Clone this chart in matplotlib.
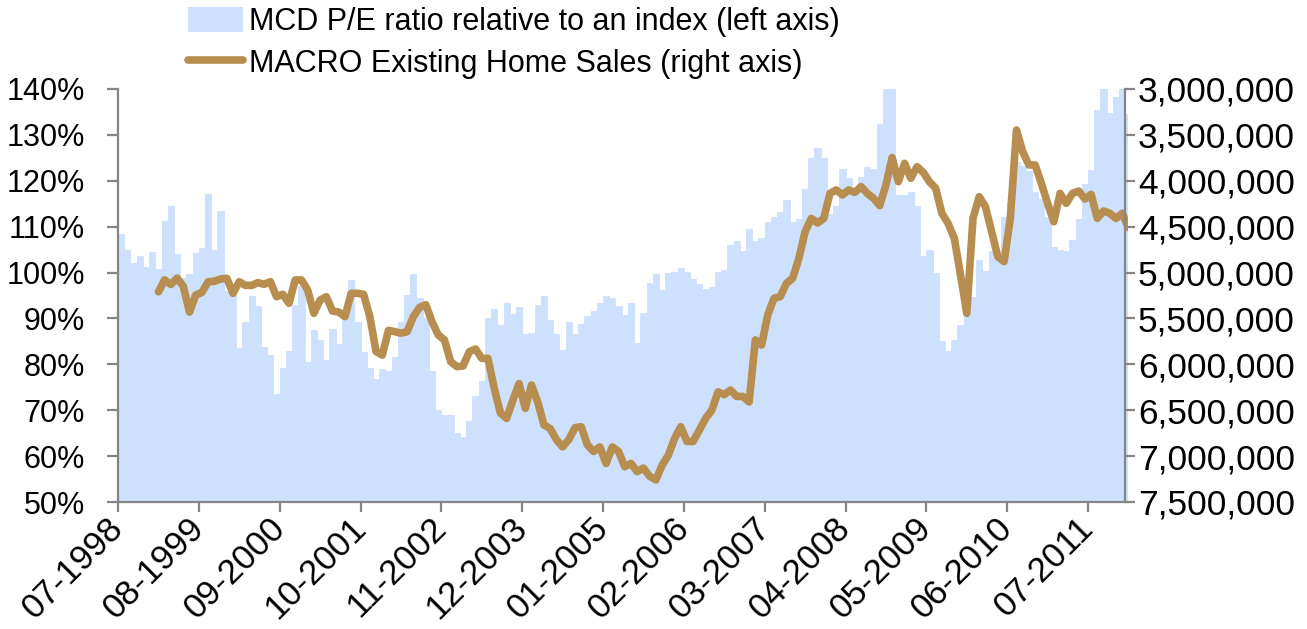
import numpy as np
import matplotlib
matplotlib.use("Agg")
import matplotlib.pyplot as plt
from matplotlib.lines import Line2D
from matplotlib.patches import Patch

plt.rcParams['font.family'] = ['Liberation Sans', 'DejaVu Sans']

# monthly data, first month is 07-1998
tick_labels = ['07-1998', '08-1999', '09-2000', '10-2001', '11-2002', '12-2003', '01-2005',
               '02-2006', '03-2007', '04-2008', '05-2009', '06-2010', '07-2011']
tick_every = 13

# MCD P/E relative to index, in %
pe_ratio = [108.4, 105.0, 102.0, 103.7, 101.2, 104.4, 100.8, 111.2, 114.6, 104.0,
            98.8, 99.6, 104.3, 105.3, 117.1, 105.0, 113.5, 96.0, 95.0, 83.5,
            89.2, 94.9, 92.8, 83.8, 82.1, 73.6, 79.2, 82.8, 93.0, 97.0,
            80.5, 87.4, 85.2, 81.0, 87.6, 84.5, 90.0, 98.4, 89.3, 82.7,
            79.1, 76.9, 78.9, 78.6, 81.6, 89.3, 95.2, 99.7, 94.4, 90.0,
            78.5, 70.0, 68.9, 69.0, 65.1, 64.2, 67.6, 73.2, 76.3, 90.1,
            92.1, 88.5, 93.3, 90.9, 92.6, 86.7, 86.9, 93.0, 94.9, 89.7,
            86.6, 83.2, 89.2, 86.7, 88.7, 90.6, 91.7, 93.4, 94.8, 94.4,
            92.7, 90.7, 93.4, 84.6, 91.2, 97.7, 99.7, 96.2, 99.9, 100.1,
            101.0, 100.2, 98.6, 97.4, 96.5, 96.8, 100.1, 100.6, 106.0, 106.8,
            104.7, 109.5, 106.8, 107.6, 111.0, 112.1, 113.3, 115.9, 111.0, 111.7,
            118.2, 124.9, 127.1, 124.9, 112.8, 114.5, 122.6, 120.6, 117.5, 120.8,
            122.9, 122.6, 132.4, 141.0, 141.0, 116.8, 116.9, 117.6, 114.6, 103.6,
            105.0, 99.9, 85.0, 83.0, 85.4, 88.6, 90.7, 94.6, 102.8, 100.4,
            104.8, 104.0, 112.1, 115.3, 124.0, 123.3, 122.2, 117.6, 116.1, 112.2,
            105.5, 104.9, 104.8, 107.0, 111.7, 119.2, 122.4, 135.5, 141.0, 134.8,
            138.3, 141.0, 134.6]

# existing home sales (thousands), starts at month 6 (01-1999)
sales_start = 6
home_sales_k = [5210, 5080, 5130, 5060, 5150, 5430, 5245, 5215, 5100, 5095,
                5070, 5063, 5226, 5100, 5140, 5140, 5110, 5128, 5099, 5263,
                5237, 5335, 5081, 5081, 5190, 5444, 5300, 5263, 5420, 5430,
                5480, 5226, 5226, 5237, 5480, 5860, 5900, 5630, 5644, 5660,
                5644, 5480, 5380, 5350, 5535, 5680, 5735, 5970, 6025, 6018,
                5862, 5833, 5935, 5935, 6260, 6530, 6590, 6390, 6210, 6480,
                6225, 6410, 6660, 6700, 6820, 6900, 6820, 6690, 6680, 6880,
                6950, 6900, 7080, 6900, 6950, 7115, 7080, 7170, 7130, 7220,
                7260, 7100, 6990, 6810, 6680, 6840, 6840, 6715, 6590, 6500,
                6300, 6330, 6280, 6350, 6350, 6410, 5735, 5790, 5460, 5280,
                5263, 5117, 5063, 4845, 4554, 4410, 4460, 4410, 4137, 4100,
                4155, 4100, 4126, 4064, 4137, 4190, 4270, 4046, 3748, 4010,
                3810, 3973, 3846, 3908, 4010, 4082, 4355, 4464, 4627, 5027,
                5444, 4410, 4173, 4282, 4554, 4827, 4881, 4410, 3447, 3683,
                3828, 3828, 4028, 4246, 4446, 4137, 4246, 4137, 4112, 4198,
                4148, 4410, 4329, 4355, 4410, 4355, 4510]

blue = '#CDE0FD'
brown = '#B88E50'
grey = '#858585'
fs = 22

W, H = 1307, 629
fig = plt.figure(figsize=(W / 100, H / 100), dpi=100)
n = len(pe_ratio)
x0, x1, ytop, ybot = 118, 118 + 6.218 * (n - 0.5), 89, 502
ax = fig.add_axes([x0 / W, 1 - ybot / H, (x1 - x0) / W, (ybot - ytop) / H])

x = np.arange(n) + 0.5
ax.bar(x, pe_ratio, width=1.0, color=blue, edgecolor=blue, linewidth=0.6)
ax.set_xlim(0, n - 0.5)
ax.set_ylim(50, 140)
yt = np.arange(50, 141, 10)
ax.set_yticks(yt)
ax.set_yticklabels([f'{v}%' for v in yt])
xt = np.arange(0, n, tick_every)[:len(tick_labels)]
ax.set_xticks(xt)
ax.set_xticklabels(tick_labels, rotation=45, ha='right', va='center', rotation_mode='anchor')

ax2 = ax.twinx()
sales = np.array(home_sales_k) * 1000
xs = np.arange(len(sales)) + sales_start + 0.5
ax2.plot(xs, sales, color=brown, lw=5.5, solid_joinstyle='round', solid_capstyle='round')
ax2.set_ylim(7500000, 3000000)
rt = np.arange(3000000, 7500001, 500000)
ax2.set_yticks(rt)
ax2.set_yticklabels([f'{v:,}' for v in rt])

for s in ['top', 'right']:
    ax.spines[s].set_visible(False)
for s in ['top', 'left', 'bottom']:
    ax2.spines[s].set_visible(False)
ax2.spines['right'].set_position(('data', n - 1))
for sp in [ax.spines['left'], ax.spines['bottom'], ax2.spines['right']]:
    sp.set_color(grey)
    sp.set_linewidth(1.6)

ax.tick_params(axis='y', direction='out', length=8, width=1.6, color=grey,
               labelsize=fs, pad=16)
ax.tick_params(axis='x', direction='out', length=7, width=1.6, color=grey,
               labelsize=25, pad=8)
ax2.tick_params(axis='y', direction='out', length=7, width=1.6, color=grey,
                labelsize=25.5, pad=2)

handles = [Patch(facecolor=blue, edgecolor='none'),
           Line2D([0], [0], color=brown, lw=5.5, solid_capstyle='round')]
labels = ['MCD P/E ratio relative to an index (left axis)',
          'MACRO Existing Home Sales (right axis)']
fig.legend(handles, labels, loc='upper left', bbox_to_anchor=(188 / W, 1 - 7 / H),
           frameon=False, fontsize=fs, handlelength=1.8, handleheight=0.85,
           handletextpad=0.2, labelspacing=0.38, borderaxespad=0, borderpad=0)

fig.savefig('out.png', dpi=100)
